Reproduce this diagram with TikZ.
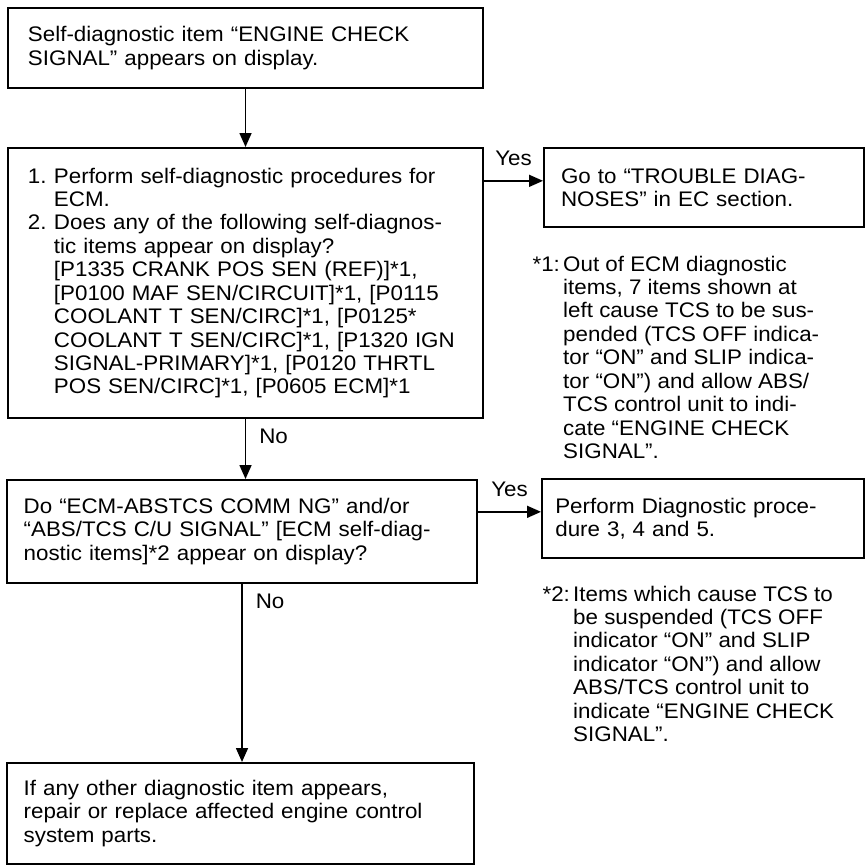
\documentclass[tikz,border=0pt]{standalone}
\usepackage{fontspec}
\setmainfont{Liberation Sans}[FakeStretch=1.06]
\usetikzlibrary{arrows.meta}

\begin{document}
\begin{tikzpicture}[x=0.03cm, y=-0.03cm, >={Triangle[length=0.42cm,width=0.36cm]},
  font=\fontsize{18}{20}\selectfont,
  chartbox/.style={draw, rectangle, line width=1.7pt, anchor=north west, align=left},
  note/.style={anchor=base west, inner sep=0pt},
  lbl/.style={inner sep=0pt},
  flow/.style={->, line width=1.35pt}]
\useasboundingbox (0,0) rectangle (866,865);

% left column
\node[chartbox, minimum width=14.25cm, minimum height=2.4cm, text width=13.05cm, inner xsep=0.6cm] (sig) at (7,7)
  {Self-diagnostic item “ENGINE CHECK\\ SIGNAL” appears on display.};
\node[chartbox, minimum width=14.25cm, minimum height=8.1cm, text width=13.05cm, inner xsep=0.6cm] (ecm) at (7,147)
  {\makebox[0.78cm][l]{1.}Perform self-diagnostic procedures for\\
   \hspace*{0.78cm}ECM.\\
   \makebox[0.78cm][l]{2.}Does any of the following self-diagnos-\\
   \hspace*{0.78cm}tic items appear on display?\\
   \hspace*{0.78cm}[P1335 CRANK POS SEN (REF)]*1,\\
   \hspace*{0.78cm}[P0100 MAF SEN/CIRCUIT]*1, [P0115\\
   \hspace*{0.78cm}COOLANT T SEN/CIRC]*1, [P0125*\\
   \hspace*{0.78cm}COOLANT T SEN/CIRC]*1, [P1320 IGN\\
   \hspace*{0.78cm}SIGNAL-PRIMARY]*1, [P0120 THRTL\\
   \hspace*{0.78cm}POS SEN/CIRC]*1, [P0605 ECM]*1};
\node[chartbox, minimum width=14.1cm, minimum height=3.09cm, text width=13.1cm, inner xsep=0.5cm] (comm) at (6,479)
  {Do “ECM-ABSTCS COMM NG” and/or\\ “ABS/TCS C/U SIGNAL” [ECM self-diag-\\ nostic items]*2 appear on display?};
\node[chartbox, minimum width=14.01cm, minimum height=3.03cm, text width=13.01cm, inner xsep=0.5cm] (repair) at (6,762)
  {If any other diagnostic item appears,\\ repair or replace affected engine control\\ system parts.};

% right column
\node[chartbox, minimum width=9.6cm, minimum height=2.37cm, text width=8.58cm, inner xsep=0.51cm] (tdiag) at (543,147)
  {Go to “TROUBLE DIAG-\\ NOSES” in EC section.};
\node[chartbox, minimum width=9.66cm, minimum height=2.37cm, text width=8.86cm, inner xsep=0.4cm] (proc) at (541,478)
  {Perform Diagnostic proce-\\ dure 3, 4 and 5.};

\node[note] (note1) at (563,271) {\begin{tabular}[t]{@{}l@{}}
  \llap{*1:\hspace{0.1cm}}Out of ECM diagnostic\\
  items, 7 items shown at\\
  left cause TCS to be sus-\\
  pended (TCS OFF indica-\\
  tor “ON” and SLIP indica-\\
  tor “ON”) and allow ABS/\\
  TCS control unit to indi-\\
  cate “ENGINE CHECK\\
  SIGNAL”.\end{tabular}};
\node[note] (note2) at (573,601) {\begin{tabular}[t]{@{}l@{}}
  \llap{*2:\hspace{0.1cm}}Items which cause TCS to\\
  be suspended (TCS OFF\\
  indicator “ON” and SLIP\\
  indicator “ON”) and allow\\
  ABS/TCS control unit to\\
  indicate “ENGINE CHECK\\
  SIGNAL”.\end{tabular}};

% connectors
\coordinate (yes1) at ([yshift=0.2cm]tdiag.west);
\coordinate (yes2) at ([yshift=0.2cm]proc.west);

\draw[flow] (sig.south) -- (sig.south |- ecm.north);
\draw[flow] (yes1 -| ecm.east) -- (yes1) node[lbl, midway, anchor=base, yshift=0.45cm] {Yes};
\draw[flow] (ecm.south) -- (ecm.south |- comm.north) node[lbl, pos=0, anchor=base west, xshift=0.39cm, yshift=-0.72cm] {No};
\draw[flow] (yes2 -| comm.east) -- (yes2) node[lbl, midway, anchor=base, yshift=0.45cm] {Yes};
\draw[flow] (comm.south) -- (comm.south |- repair.north) node[lbl, pos=0, anchor=base west, xshift=0.39cm, yshift=-0.72cm] {No};
\end{tikzpicture}
\end{document}
